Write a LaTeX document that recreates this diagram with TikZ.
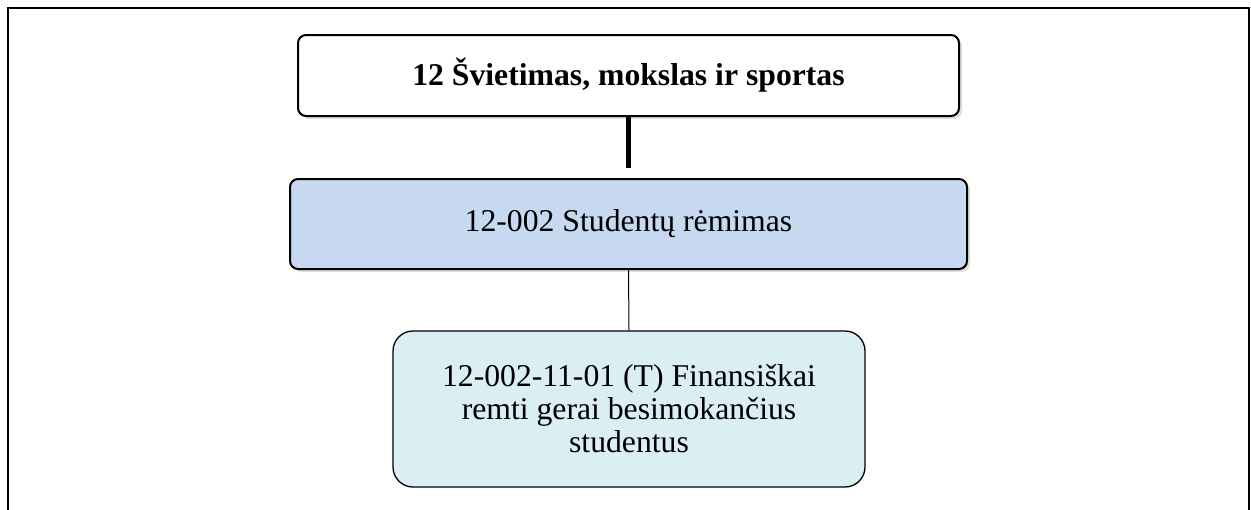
\documentclass[tikz,border=0pt]{standalone}
\usepackage{fontspec}
\setmainfont{Liberation Serif}
\usetikzlibrary{positioning}
\usetikzlibrary{shadows}

\definecolor{progblue}{HTML}{C6D9F0}
\definecolor{goalblue}{HTML}{DBEEF3}

\begin{document}
\begin{tikzpicture}[x=1pt, y=-1pt,
    every node/.style={font=\fontsize{31.7}{33}\selectfont},
    area/.style={rectangle, rounded corners=8, draw=black, fill=white, line width=2, minimum width=661, minimum height=81, drop shadow={shadow xshift=3pt, shadow yshift=-3pt, opacity=0.25}},
    program/.style={rectangle, rounded corners=8, draw=black, fill=progblue, line width=2, minimum width=677, minimum height=90, drop shadow={shadow xshift=3pt, shadow yshift=-3pt, opacity=0.25}},
    goal/.style={rectangle, rounded corners=20, draw=black, fill=goalblue, line width=1.3, minimum width=472, minimum height=156, align=center}]
    \useasboundingbox (0,0) rectangle (1251,509);
    \draw[line width=2.5] (8,515) -- (8,8) -- (1249,8) -- (1249,515);
    \node[area](area) at (628.5,75.5) {\textbf{12 Švietimas, mokslas ir sportas}};
    \node[program](program) at (628.5,224) {12-002 Studentų rėmimas};
    \node[goal](goal) at (629,409) {12-002-11-01 (T) Finansiškai\\ remti gerai besimokančius\\ studentus};
    \draw[line width=5] (area.south) to ([yshift=10pt]program.north);
    \draw[line width=1] (program.south) to (goal.north);
\end{tikzpicture}
\end{document}
